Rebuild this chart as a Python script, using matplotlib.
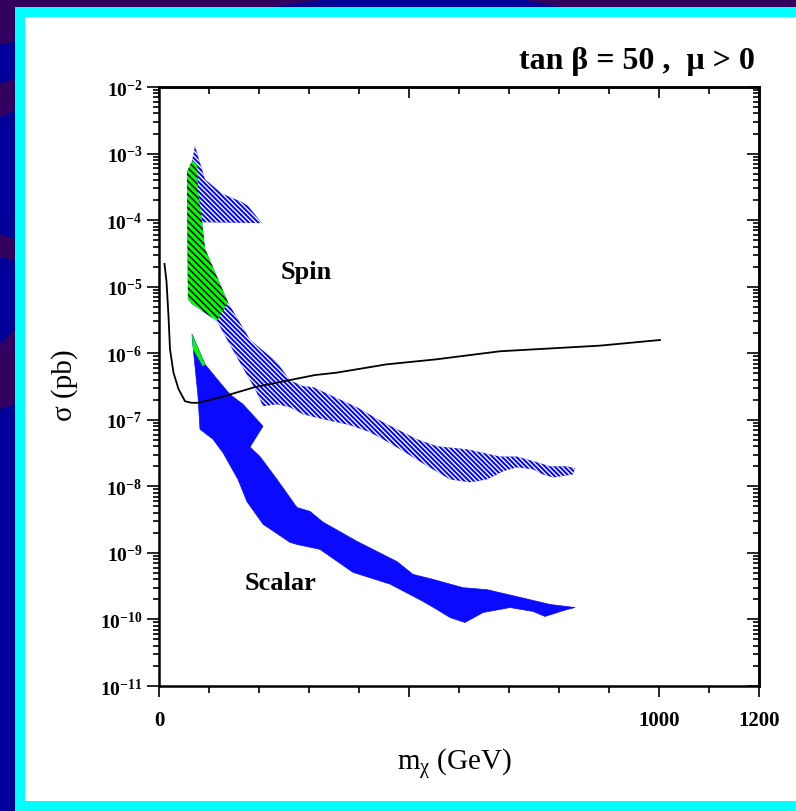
import numpy as np
import matplotlib
matplotlib.use("Agg")
import matplotlib.pyplot as plt
from matplotlib.patches import Rectangle, Polygon
from matplotlib.ticker import FixedLocator, LogLocator, NullFormatter, FuncFormatter

# values: m_chi in GeV, sigma in pb
limit_m = [11, 15, 19, 22, 29, 39, 52, 65, 78, 125, 192, 258, 312, 355, 455, 555, 682, 882, 1002]
limit_sig = [2.2e-5, 1.2e-5, 3.6e-6, 1.15e-6, 5.1e-7, 2.9e-7, 1.9e-7, 1.8e-7, 1.8e-7, 2.2e-7,
             3.1e-7, 3.9e-7, 4.7e-7, 5.1e-7, 6.8e-7, 8.1e-7, 1.07e-6, 1.3e-6, 1.58e-6]

spin_m = [72, 92, 126, 166, 178, 206, 86, 92, 138, 182,
          236, 262, 288, 308, 348, 396, 448, 516, 556, 616,
          682, 716, 756, 782, 816, 832,
          828, 788, 768, 748, 716, 688, 656, 622, 582, 548,
          516, 488, 448, 422, 382, 328, 288, 262, 236, 208,
          192, 158, 116, 66, 58, 56, 66]
spin_sig = [1.3e-3, 4.1e-4, 2.5e-4, 1.87e-4, 1.63e-4, 9.0e-5, 9.3e-5, 3.7e-5, 5.8e-6, 1.6e-6,
            7.3e-7, 3.9e-7, 3.2e-7, 3.1e-7, 2.25e-7, 1.54e-7, 9.2e-8, 5.1e-8, 4.0e-8, 3.6e-8,
            2.8e-8, 2.8e-8, 2.3e-8, 2.0e-8, 2.0e-8, 1.87e-8,
            1.51e-8, 1.36e-8, 1.51e-8, 1.8e-8, 1.93e-8, 1.68e-8, 1.27e-8, 1.15e-8, 1.27e-8, 1.8e-8,
            2.5e-8, 3.4e-8, 5.1e-8, 6.5e-8, 8.3e-8, 1.02e-7, 1.21e-7, 1.54e-7, 1.71e-7, 1.6e-7,
            2.9e-7, 8.1e-7, 3.0e-6, 5.5e-6, 6.5e-6, 5.3e-4, 7.7e-4]

spin_green_m = [66, 76, 78, 86, 92, 138, 116, 66, 58, 56]
spin_green_sig = [7.7e-4, 6.9e-4, 2.9e-4, 9.7e-5, 3.7e-5, 5.8e-6, 3.1e-6, 5.5e-6, 6.5e-6, 5.3e-4]

scalar_m = [66, 92, 116, 142, 168, 208, 182, 202, 236, 276,
            302, 328, 396, 476, 508, 548, 608, 656, 716, 782,
            832,
            816, 772, 748, 702, 648, 612, 582, 556, 528, 462,
            388, 322, 276, 262, 208, 176, 158, 128, 108, 82,
            78, 68]
scalar_sig = [1.93e-6, 6.8e-7, 4.1e-7, 2.4e-7, 1.71e-7, 8.0e-8, 3.9e-8, 2.8e-8, 1.27e-8, 4.8e-9,
              4.2e-9, 2.9e-9, 1.49e-9, 7.4e-10, 4.75e-10, 4.0e-10, 3.0e-10, 2.8e-10, 2.2e-10, 1.68e-10,
              1.51e-10,
              1.41e-10, 1.11e-10, 1.32e-10, 1.51e-10, 1.27e-10, 9.0e-11, 1.07e-10, 1.41e-10, 1.87e-10, 3.4e-10,
              5.1e-10, 1.13e-9, 1.34e-9, 1.44e-9, 2.7e-9, 5.9e-9, 1.27e-8, 3.2e-8, 5.1e-8, 7.2e-8,
              2.25e-7, 1.27e-6]

scalar_green_m = [66, 92, 88, 68]
scalar_green_sig = [1.93e-6, 6.8e-7, 6.3e-7, 1.15e-6]

x_major = [0, 500, 1000, 1200]
x_labels = ["0", "", "1000", "1200"]

plt.rcParams["font.family"] = ["Liberation Serif", "DejaVu Serif"]
plt.rcParams["mathtext.fontset"] = "custom"
plt.rcParams["mathtext.rm"] = "Liberation Serif"
plt.rcParams["mathtext.bf"] = "Liberation Serif:bold"
plt.rcParams["mathtext.it"] = "Liberation Serif:italic"

W, H = 796, 812
fig = plt.figure(figsize=(W / 100, H / 100), dpi=100, facecolor="#000099")


def px(x, y):
    # pixel (from top-left) -> figure fraction
    return (x / W, 1 - y / H)


# slide background streaks + cyan frame + white panel
streaks = [
    [(0, 0), (330, 0), (0, 45)],
    [(0, 85), (15, 80), (15, 112), (0, 118)],
    [(0, 235), (15, 240), (15, 262), (0, 258)],
    [(0, 345), (15, 330), (15, 405), (0, 410)],
    [(520, 0), (796, 0), (796, 8), (560, 8)],
]
for s in streaks:
    fig.patches.append(Polygon([px(*p) for p in s], closed=True, transform=fig.transFigure,
                               fc="#33005f", ec="none", zorder=-10))
fig.patches.append(Rectangle(px(15, 812), 1, 1 - 8 / H, transform=fig.transFigure,
                             fc="#00ffff", ec="none", zorder=-9))
fig.patches.append(Rectangle(px(25, 802), 1, (802 - 18) / H, transform=fig.transFigure,
                             fc="white", ec="none", zorder=-8))

ax = fig.add_axes([159 / W, 1 - 687 / H, 600 / W, 599 / H])
ax.set_yscale("log")
ax.set_xlim(0, 1200)
ax.set_ylim(1e-11, 1e-2)
ax.set_facecolor("white")

# spin-dependent band (hatched), green part on top
with plt.rc_context({"hatch.linewidth": 1.0}):
    ax.fill(spin_m, spin_sig, facecolor="#0000ff", edgecolor="white", linewidth=0,
            hatch="\\" * 7, zorder=2)
with plt.rc_context({"hatch.linewidth": 1.1}):
    ax.fill(spin_green_m, spin_green_sig, facecolor="#00ff00", edgecolor="black", linewidth=0,
            hatch="\\" * 5, zorder=3)

# scalar band (solid)
ax.fill(scalar_m, scalar_sig, facecolor="#0a0aff", edgecolor="#0a0aff", linewidth=0.5, zorder=2)
ax.fill(scalar_green_m, scalar_green_sig, facecolor="#00ff00", edgecolor="none", zorder=3)

# experimental limit
ax.plot(limit_m, limit_sig, color="black", lw=1.3, zorder=4)

ax.text(294, 1.7e-5, "Spin", fontsize=19, fontweight="bold", ha="center", va="center")
ax.text(244, 3.6e-10, "Scalar", fontsize=19, fontweight="bold", ha="center", va="center")

# ticks
ax.xaxis.set_major_locator(FixedLocator(x_major))
ax.set_xticklabels(x_labels, fontsize=15, fontweight="bold")
ax.xaxis.set_minor_locator(FixedLocator(range(0, 1201, 100)))
ax.yaxis.set_major_locator(LogLocator(base=10, numticks=20))
ax.yaxis.set_minor_locator(LogLocator(base=10, subs=np.arange(2, 10), numticks=20))
ax.yaxis.set_minor_formatter(NullFormatter())
ax.yaxis.set_major_formatter(FuncFormatter(lambda v, p: r"$\mathbf{10^{%d}}$" % round(np.log10(v))))
ax.tick_params(axis="both", which="both", direction="out", top=False, right=False, width=1.2)
ax.tick_params(axis="x", which="major", length=8, pad=9)
ax.tick_params(axis="x", which="minor", length=5)
ax.tick_params(axis="y", which="major", length=9, labelsize=14, pad=3)
ax.tick_params(axis="y", which="minor", length=4)
for sp in ax.spines.values():
    sp.set_linewidth(1.8)

secx = ax.secondary_xaxis("top")
secx.xaxis.set_major_locator(FixedLocator(x_major))
secx.xaxis.set_minor_locator(FixedLocator(range(0, 1201, 100)))
secx.tick_params(which="both", direction="in", labeltop=False, width=1.2)
secx.tick_params(which="major", length=8)
secx.tick_params(which="minor", length=5)
secx.spines["top"].set_linewidth(1.8)

secy = ax.secondary_yaxis("right")
secy.yaxis.set_major_locator(LogLocator(base=10, numticks=20))
secy.yaxis.set_minor_locator(LogLocator(base=10, subs=np.arange(2, 10), numticks=20))
secy.tick_params(which="both", direction="in", labelright=False, width=1.2)
secy.tick_params(which="major", length=9)
secy.tick_params(which="minor", length=4)
secy.spines["right"].set_linewidth(1.8)

fig.text(*px(755, 62), "tan \u03b2 = 50 ,  \u03bc > 0", fontsize=23, fontweight="bold",
         ha="right", va="center")
fig.text(*px(455, 765), r"m$_{\mathrm{\chi}}$ (GeV)", fontsize=21, ha="center", va="center")
fig.text(*px(65, 385), "\u03c3 (pb)", fontsize=21, rotation=90, ha="center", va="center")

fig.savefig("out.png", dpi=100, facecolor=fig.get_facecolor())
